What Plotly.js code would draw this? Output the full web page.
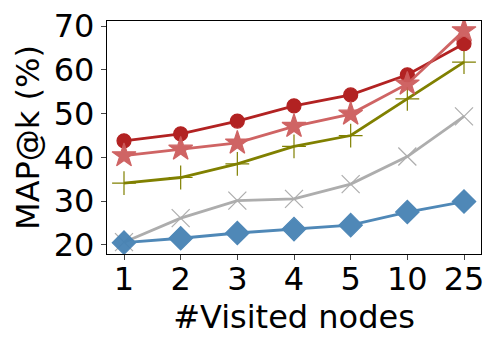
<!DOCTYPE html>
<html>
<head>
<meta charset="utf-8">
<script src="https://cdn.plot.ly/plotly-3.0.1.min.js"></script>
<style>
  html, body { margin: 0; padding: 0; background: #fff; }
  #myDiv { width: 500px; height: 350px; }
</style>
</head>
<body>
<div id="myDiv"></div>
<script>
let visited = ["1", "2", "3", "4", "5", "10", "25"];

let circleVals = [43.8, 45.4, 48.3, 51.8, 54.3, 58.9, 66.0];
let starVals = [40.4, 41.9, 43.3, 47.1, 49.9, 56.8, 69.0];
let plusVals = [34.1, 35.4, 38.5, 42.5, 45.0, 53.4, 61.8];
let crossVals = [20.6, 26.1, 30.1, 30.5, 33.9, 40.2, 49.4];
let diamondVals = [20.5, 21.5, 22.7, 23.6, 24.5, 27.5, 29.9];

function series(y, color, symbol, size, opacity) {
    return {
        mode: 'lines+markers',
        type: 'scatter',
        x: visited,
        y: y,
        opacity: opacity,
        line: {color: color, width: 2.8},
        marker: {color: color, symbol: symbol, size: size, line: {color: color, width: 1.2}}
    };
}

let traces = [
    series(crossVals, '#a9a9a9', 'x-thin', 18, 0.95),
    series(diamondVals, '#4682b4', 'diamond', 18, 0.95),
    series(plusVals, '#808000', 'cross-thin', 17, 1),
    series(circleVals, '#b22222', 'circle', 14, 1),
    series(starVals, '#cd5c5c', 'star', 18, 0.95)
];

let layout = {
    width: 500,
    height: 350,
    showlegend: false,
    margin: {l: 107, r: 19, t: 21, b: 96},
    paper_bgcolor: '#fff',
    plot_bgcolor: '#fff',
    font: {family: 'DejaVu Sans', color: '#000'},
    xaxis: {
        type: 'category',
        range: [-0.3, 6.3],
        title: {text: '#Visited nodes', font: {size: 32}, standoff: 2},
        tickfont: {size: 32},
        ticklabelstandoff: -9,
        ticks: 'outside',
        ticklen: 5,
        tickwidth: 1,
        showgrid: false,
        zeroline: false,
        showline: true,
        mirror: true,
        linecolor: '#000',
        linewidth: 1.2
    },
    yaxis: {
        range: [17.9, 71.2],
        tickvals: [20, 30, 40, 50, 60, 70],
        title: {text: 'MAP@k (%)', font: {size: 32}, standoff: 4},
        tickfont: {size: 32},
        ticks: 'outside',
        ticklen: 5,
        tickwidth: 1,
        showgrid: false,
        zeroline: false,
        showline: true,
        mirror: true,
        linecolor: '#000',
        linewidth: 1.2
    }
};

Plotly.newPlot("myDiv", traces, layout, {displayModeBar: false, staticPlot: true});
</script>
</body>
</html>
